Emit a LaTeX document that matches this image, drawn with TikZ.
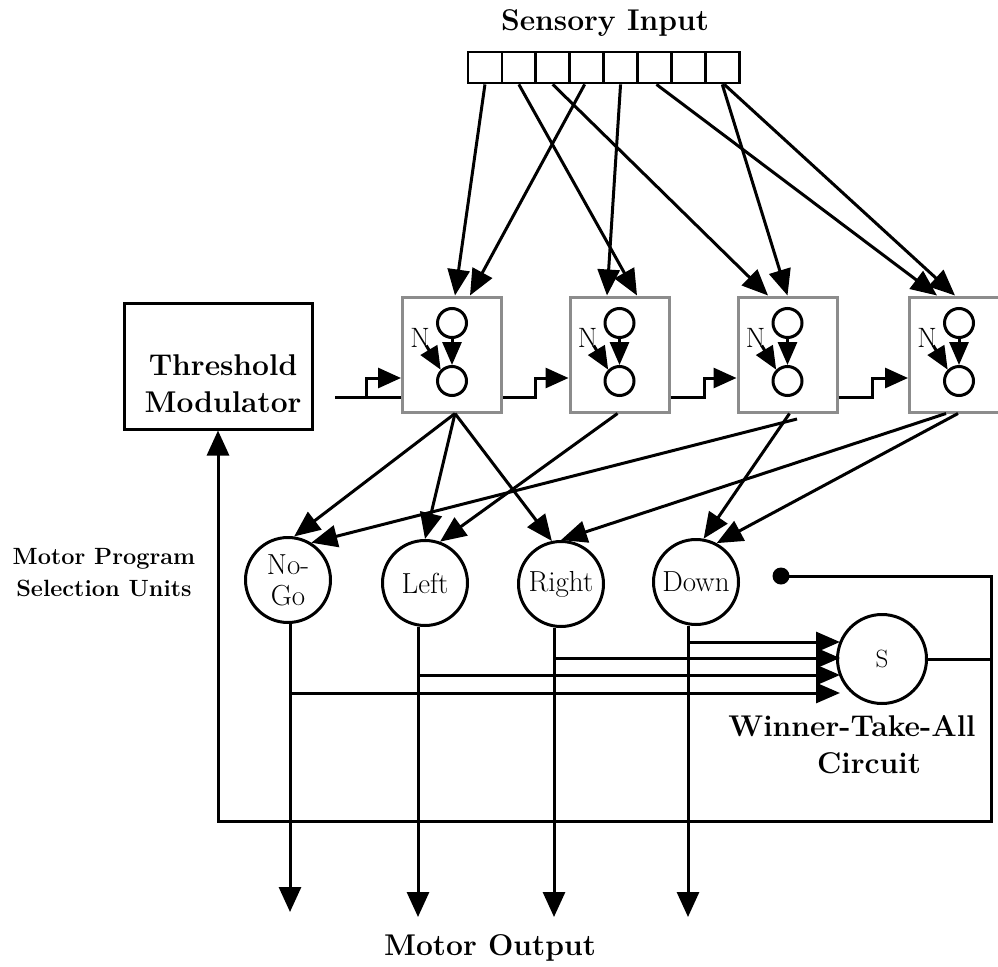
\documentclass[tikz,border=0pt]{standalone}
\usepackage{fontspec}
\usetikzlibrary{arrows.meta,shapes.geometric}
\begin{document}
\begin{tikzpicture}[x=1pt,y=-1pt,line width=3pt,line join=miter,
  lbl/.style={font=\fontsize{30}{37}\selectfont\bfseries, inner sep=0pt, align=center},
  slbl/.style={font=\fontsize{23.5}{32}\selectfont\bfseries, inner sep=0pt, align=center},
  cell/.style={draw, line width=2.8pt, minimum width=33.9pt, minimum height=31pt, inner sep=0pt},
  detbox/.style={draw=black!45, line width=3pt, minimum width=99pt, minimum height=115pt, inner sep=0pt},
  neuron/.style={draw, circle, line width=3pt, minimum size=29pt, inner sep=0pt},
  unit/.style={draw, circle, line width=3pt, minimum size=85pt, inner sep=0pt, align=center, font=\fontsize{29}{31}\selectfont},
  big tip/.style={-{Triangle[length=26pt,width=22pt]}},
  mid tip/.style={-{Triangle[length=23pt,width=19pt]}},
  stair tip/.style={-{Triangle[length=23pt,width=20pt]}},
  out tip/.style={-{Triangle[length=25pt,width=22pt]}},
  br tip/.style={-{Triangle[length=24pt,width=20pt]}},
]
\useasboundingbox (0,0) rectangle (998,966);
\clip (0,0) rectangle (998,966);

% sensory input array
\node[lbl, anchor=base] (title) at (605,31) {Sensory Input};
\foreach \i in {1,...,8} \node[cell] (c\i) at ({468+33.9*(\i-0.5)},67.5) {};

% detector boxes
\foreach \i/\x in {1/452,2/619.5,3/787.5,4/959}{
  \node[detbox] (b\i) at (\x,354.5) {};
  \node[neuron] (t\i) at (\x,323) {};
  \node[neuron] (u\i) at (\x,381) {};
  \node[font=\fontsize{28}{28}\selectfont, inner sep=0pt, anchor=base] (n\i) at (\x-32,347) {N};
  \draw[mid tip] (t\i.south) -- (u\i.north);
  \draw[mid tip] ([xshift=-5pt,yshift=3pt]n\i.south east) -- (u\i.north west);
}

% sensory connections
\draw[big tip] (c1.south) -- ([xshift=3pt]b1.north);
\draw[big tip] ([xshift=-2pt]c4.south) -- ([xshift=18pt]b1.north);
\draw[big tip] (c2.south) -- ([xshift=17.5pt]b2.north);
\draw[big tip] (c5.south) -- ([xshift=-12.5pt]b2.north);
\draw[big tip] (c3.south) -- ([xshift=-19.5pt]b3.north);
\draw[big tip] (c8.south) -- (b3.north);
\draw[big tip] ([xshift=2pt]c6.south) -- ([xshift=-22pt]b4.north);
\draw[big tip] ([xshift=2pt]c8.south) -- ([xshift=-4pt]b4.north);

% threshold modulator
\node[draw, line width=3pt, minimum width=188pt, minimum height=126pt, inner sep=0pt] (tm) at (218,366) {};
\node[lbl] (tmt) at (223,383.5) {Threshold\\Modulator};

% threshold line with steps
\coordinate (th0) at (335,397);
\draw (th0) -- ([yshift=-42.5pt]b1.west);
\draw[stair tip] ([xshift=-35pt,yshift=-42.5pt]b1.west) -- ([xshift=-35pt,yshift=-23.5pt]b1.west) -- ([yshift=-23.5pt]b1.west);
\draw[stair tip] ([yshift=-42.5pt]b1.east) -- ([xshift=-33pt,yshift=-42.5pt]b2.west) -- ([xshift=-33pt,yshift=-23.5pt]b2.west) -- ([yshift=-23.5pt]b2.west);
\draw[stair tip] ([yshift=-42.5pt]b2.east) -- ([xshift=-32pt,yshift=-42.5pt]b3.west) -- ([xshift=-32pt,yshift=-23.5pt]b3.west) -- ([yshift=-23.5pt]b3.west);
\draw[stair tip] ([yshift=-42.5pt]b3.east) -- ([xshift=-36pt,yshift=-42.5pt]b4.west) -- ([xshift=-36pt,yshift=-23.5pt]b4.west) -- ([yshift=-23.5pt]b4.west);

% motor program selection units
\node[slbl] (mps) at (104,573) {Motor Program\\Selection Units};
\node[unit] (nogo) at (288,580) {No-\\Go};
\node[unit] (left) at (425,583) {Left};
\node[unit] (right) at (561,584) {Right};
\node[unit] (down) at (696,582) {Down};

% detector -> units
\draw[big tip] ([xshift=3pt]b1.south) -- (nogo.82);
\draw[big tip] ([xshift=3pt]b1.south) -- (left.north);
\draw[big tip] ([xshift=3pt]b1.south) -- (right.102);
\draw[big tip] ([xshift=-2pt]b2.south) -- (left.70);
\coordinate (b3s) at (797,419);
\draw[big tip] (b3s) -- (nogo.58);
\draw[big tip] ([xshift=2pt]b3.south) -- (down.80);
\draw[big tip] ([xshift=-13pt]b4.south) -- (right.90);
\draw[big tip] ([xshift=-1pt]b4.south) -- (down.62);

% winner-take-all
\node[draw, circle, line width=3pt, minimum size=89pt, inner sep=0pt, font=\fontsize{25}{25}\selectfont] (S) at (882,659) {S};
\node[lbl] (wta) at (852,744.5) {Winner-Take-All\\\hspace*{34pt}Circuit};

% motor outputs
\coordinate (o1) at (290,912);
\coordinate (o2) at (418,917);
\coordinate (o3) at (554,917);
\coordinate (o4) at (688,917);
\draw[out tip] ([xshift=2pt]nogo.south) -- (o1);
\draw[out tip] ([xshift=-7pt]left.south) -- (o2);
\draw[out tip] ([xshift=-7pt]right.south) -- (o3);
\draw[out tip] ([xshift=-8pt]down.south) -- (o4);
\node[lbl, anchor=base] (mo) at (490,955) {Motor Output};

% branches into S
\coordinate (sD) at (840,642);
\coordinate (sR) at (840,658);
\coordinate (sL) at (840,675);
\coordinate (sN) at (840,693);
\draw[br tip] (o4 |- sD) -- (sD);
\draw[br tip] (o3 |- sR) -- (sR);
\draw[br tip] (o2 |- sL) -- (sL);
\draw[br tip] (o1 |- sN) -- (sN);

% inhibition / feedback loop
\coordinate (rt) at (991,576);
\coordinate (rb) at (991,821);
\coordinate (lb) at (218,821);
\node[circle, fill, minimum size=17pt, inner sep=0pt] (dot) at (781,576) {};
\draw (S.east) -- (S.east -| rt);
\draw[out tip] (dot.center) -- (rt) -- (rb) -- (lb) -- (tm.south);
\end{tikzpicture}
\end{document}
